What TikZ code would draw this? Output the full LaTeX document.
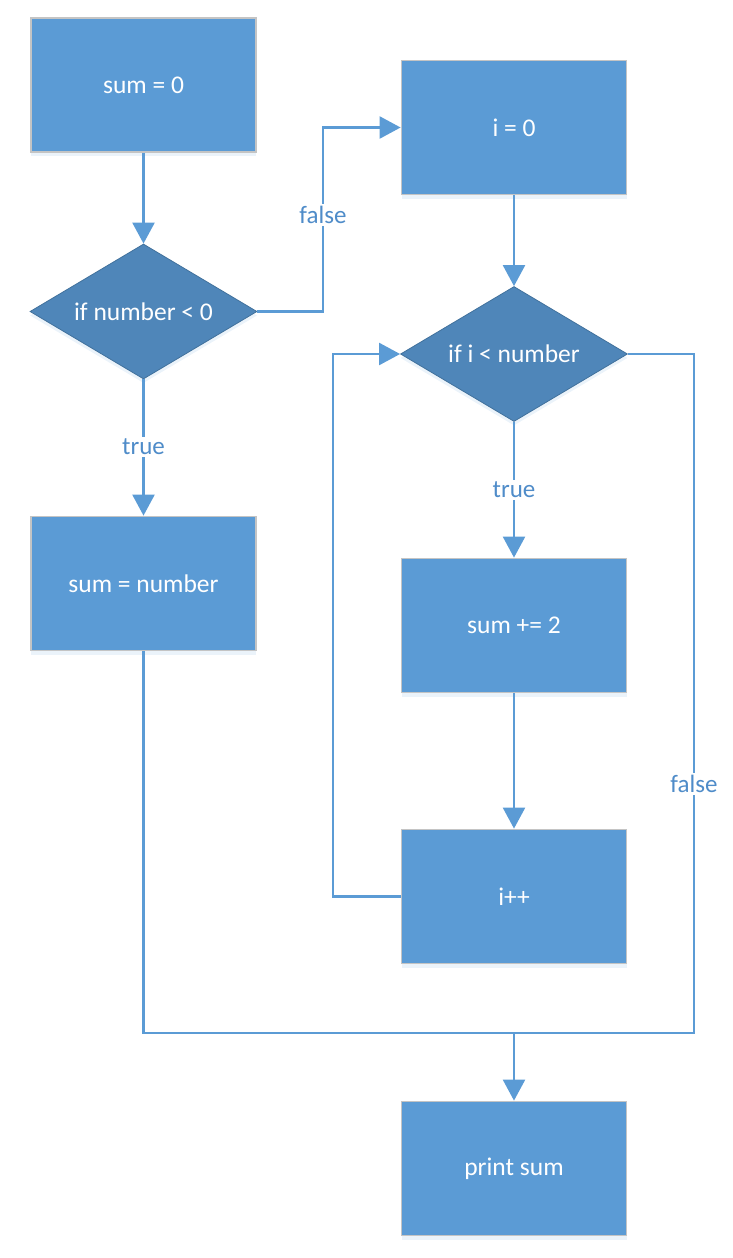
\documentclass[tikz,border=0pt]{standalone}
\usepackage{fontspec}
\setmainfont{Carlito}
\usetikzlibrary{shapes.geometric,arrows.meta,shadows}
\definecolor{boxblue}{HTML}{5B9BD5}
\definecolor{dblue}{HTML}{4F86B9}
\definecolor{dborder}{HTML}{41719C}
\definecolor{lineblue}{HTML}{5B9BD5}
\definecolor{labblue}{HTML}{4F8CC9}
\definecolor{boxborder}{HTML}{C4C4C4}
\tikzset{
  procbox/.style={rectangle, fill=boxblue, draw=boxborder, line width=1.8pt,
    minimum width=225pt, minimum height=134pt, inner sep=0pt,
    text=white, font=\fontsize{25.5}{30}\selectfont,
    drop shadow={shadow xshift=0pt, shadow yshift=-4pt, opacity=0.12, fill=boxblue}},
  decbox/.style={diamond, fill=dblue, draw=dborder, line width=0.8pt,
    minimum width=227pt, minimum height=135pt, inner sep=0pt, aspect=1.68,
    text=white, font=\fontsize{25.5}{30}\selectfont,
    drop shadow={shadow xshift=0pt, shadow yshift=-4pt, opacity=0.12, fill=boxblue}},
  conn/.style={draw=lineblue, line width=2.4pt},
  arr/.style={conn, -{Triangle[length=21pt,width=22pt]}},
  lab/.style={fill=white, text=labblue, inner sep=2pt, font=\fontsize{25}{30}\selectfont}
}
\begin{document}
\begin{tikzpicture}[x=1pt,y=1pt]
\useasboundingbox (0,0) rectangle (732,-1258);
\node[procbox] (s0) at (143.5,-85) {sum = 0};
\node[decbox] (d1) at (143.5,-311.5) {if number < 0};
\node[procbox] (sn) at (143.5,-583.5) {sum = number};
\node[procbox] (i0) at (514,-127.5) {i = 0};
\node[decbox] (d2) at (514,-354) {if i < number};
\node[procbox] (sp) at (514,-625.5) {sum += 2};
\node[procbox] (ipp) at (514,-896.5) {i++};
\node[procbox] (ps) at (514,-1168.5) {print sum};

\coordinate (f1) at (323,-311.5);
\coordinate (lx) at (333,-896.5);
\coordinate (rx) at (694,-354);
\coordinate (j) at (514,-1033);

\draw[arr] (s0.south) -- (d1.north);
\draw[arr] (d1.south) -- (sn.north);
\draw[arr] (d1.east) -- (f1) |- (i0.west);
\draw[arr] (i0.south) -- (d2.north);
\draw[arr] (d2.south) -- (sp.north);
\draw[arr] (sp.south) -- (ipp.north);
\draw[arr] (ipp.west) -- (lx) |- (d2.west);
\draw[conn] (d2.east) -- (rx) |- (j);
\draw[conn] (sn.south) |- (j);
\draw[arr] (j) -- (ps.north);

\node[lab] (l1) at (323,-215) {false};
\node[lab] (l2) at (143.5,-447) {true};
\node[lab] (l3) at (514,-490) {true};
\node[lab] (l4) at (694,-784) {false};
\end{tikzpicture}
\end{document}
